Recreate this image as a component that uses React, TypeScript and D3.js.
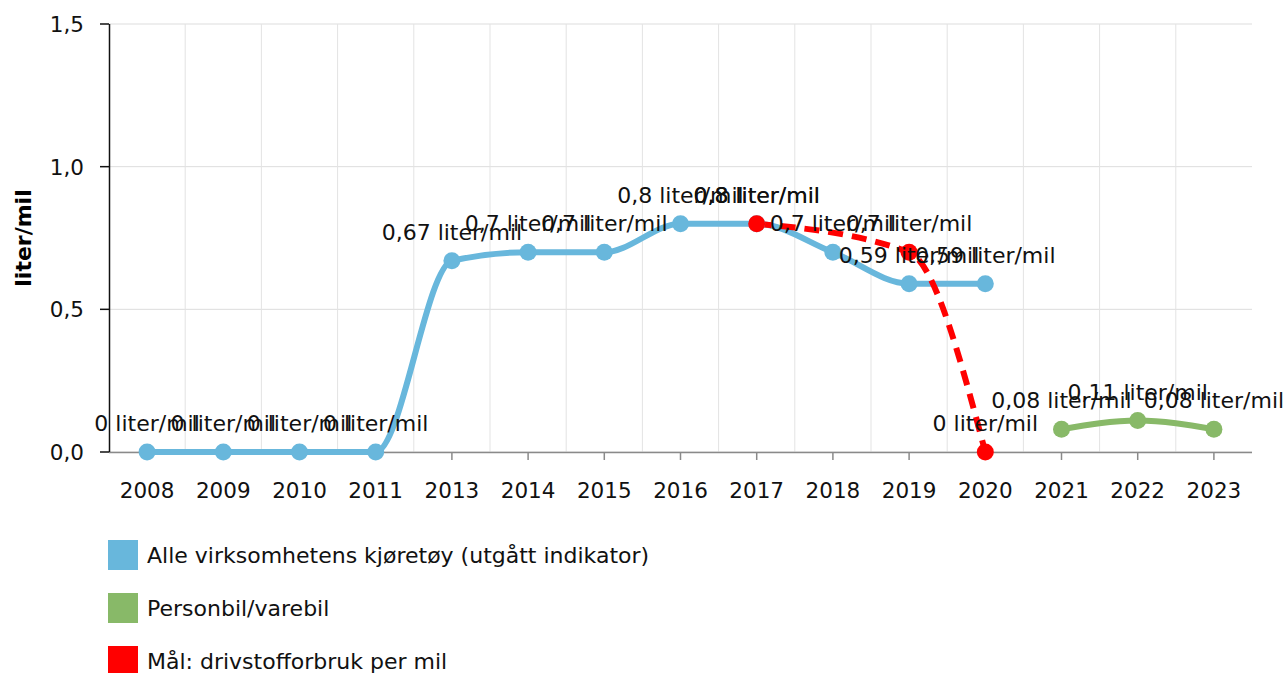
import React, { useEffect, useRef } from "react";
import * as d3 from "d3";

const categories = ["2008","2009","2010","2011","2013","2014","2015","2016","2017","2018","2019","2020","2021","2022","2023"];
const blueValues: (number | null)[] = [0,0,0,0,0.67,0.7,0.7,0.8,0.8,0.7,0.59,0.59,null,null,null];
const greenValues: (number | null)[] = [null,null,null,null,null,null,null,null,null,null,null,null,0.08,0.11,0.08];
const redValues: (number | null)[] = [null,null,null,null,null,null,null,null,0.8,null,0.7,0,null,null,null];
const yTicks = [0, 0.5, 1.0, 1.5];
const seriesNames = ["Alle virksomhetens kjøretøy (utgått indikator)", "Personbil/varebil", "Mål: drivstofforbruk per mil"];
const yTitle = "liter/mil";

const W = 1287, H = 673;
const FONT = "Verdana, 'DejaVu Sans', sans-serif";
const fmt = (v: number) => String(v).replace(".", ",");

export default function App() {
  const ref = useRef<SVGSVGElement>(null);
  useEffect(() => {
    const svg = d3.select(ref.current);
    svg.selectAll("*").remove();
    const x = d3.scaleBand<string>().domain(categories).range([109, 1252]).padding(0);
    const y = d3.scaleLinear().domain([0, 1.5]).range([452, 24]);
    const cx = (c: string) => (x(c) as number) + x.bandwidth() / 2;

    const g = svg.append("g").attr("font-family", FONT);

    // horizontal grid
    g.selectAll(".hg").data(yTicks).enter().append("line")
      .attr("x1", 109).attr("x2", 1252).attr("y1", d => y(d)).attr("y2", d => y(d))
      .attr("stroke", "#dddddd").attr("stroke-width", 1);
    // vertical grid at band boundaries
    g.selectAll(".vg").data(categories.slice(1)).enter().append("line")
      .attr("x1", d => x(d) as number).attr("x2", d => x(d) as number)
      .attr("y1", 24).attr("y2", 452)
      .attr("stroke", "#e3e3e3").attr("stroke-width", 1);

    // x axis
    g.append("line").attr("x1", 109).attr("x2", 1252).attr("y1", 452.5).attr("y2", 452.5)
      .attr("stroke", "#8a8a8a").attr("stroke-width", 1.5);
    g.selectAll(".xt").data(categories).enter().append("line")
      .attr("x1", d => cx(d)).attr("x2", d => cx(d)).attr("y1", 452).attr("y2", 460)
      .attr("stroke", "#8a8a8a").attr("stroke-width", 1.5);
    g.selectAll(".xl").data(categories).enter().append("text")
      .attr("x", d => cx(d)).attr("y", 498).attr("text-anchor", "middle")
      .attr("font-size", 21.5).attr("fill", "#111").text(d => d);

    // y axis
    g.append("line").attr("x1", 109.5).attr("x2", 109.5).attr("y1", 24).attr("y2", 452)
      .attr("stroke", "#111").attr("stroke-width", 1.5);
    g.selectAll(".yt").data(yTicks).enter().append("line")
      .attr("x1", 100).attr("x2", 109).attr("y1", d => y(d)).attr("y2", d => y(d))
      .attr("stroke", "#111").attr("stroke-width", 1.5);
    g.selectAll(".yl").data(yTicks).enter().append("text")
      .attr("x", 84).attr("y", d => y(d) + 8).attr("text-anchor", "end")
      .attr("font-size", 21.5).attr("fill", "#111").text(d => d3.format(".1f")(d).replace(".", ","));
    g.append("text").attr("transform", `translate(31,${(24 + 452) / 2}) rotate(-90)`)
      .attr("text-anchor", "middle").attr("font-size", 22).attr("font-weight", "bold")
      .attr("fill", "#000").text(yTitle);

    const series = [
      { values: blueValues, color: "#68b7dc", dash: null as string | null },
      { values: greenValues, color: "#88b968", dash: null },
      { values: redValues, color: "#ff0000", dash: "15,9" },
    ];
    const ptsOf = (vals: (number | null)[]) =>
      categories.map((c, i) => ({ c, v: vals[i] })).filter(p => p.v !== null) as { c: string; v: number }[];

    series.forEach(s => {
      const line = d3.line<{ c: string; v: number }>().x(p => cx(p.c)).y(p => y(p.v)).curve(d3.curveMonotoneX);
      const path = g.append("path").attr("d", line(ptsOf(s.values)) as string).attr("fill", "none")
        .attr("stroke", s.color).attr("stroke-width", 6).attr("stroke-linecap", "butt");
      if (s.dash) path.attr("stroke-dasharray", s.dash);
    });
    series.forEach(s => {
      g.selectAll(null).data(ptsOf(s.values)).enter().append("circle")
        .attr("cx", p => cx(p.c)).attr("cy", p => y(p.v)).attr("r", 8.5).attr("fill", s.color);
    });
    series.forEach(s => {
      g.selectAll(null).data(ptsOf(s.values)).enter().append("text")
        .attr("x", p => cx(p.c)).attr("y", p => y(p.v) - 21).attr("text-anchor", "middle")
        .attr("font-size", 22).attr("fill", "#111").text(p => `${fmt(p.v)} liter/mil`);
    });

    // legend
    series.forEach((s, i) => {
      const ly = 540 + i * 53;
      g.append("rect").attr("x", 108).attr("y", ly).attr("width", 30).attr("height", 30).attr("fill", s.color);
      g.append("text").attr("x", 147).attr("y", ly + 23).attr("font-size", 22).attr("fill", "#111").text(seriesNames[i]);
    });
  }, []);
  return <svg ref={ref} width={W} height={H} style={{ position: "absolute", left: 0, top: 0 }} />;
}
